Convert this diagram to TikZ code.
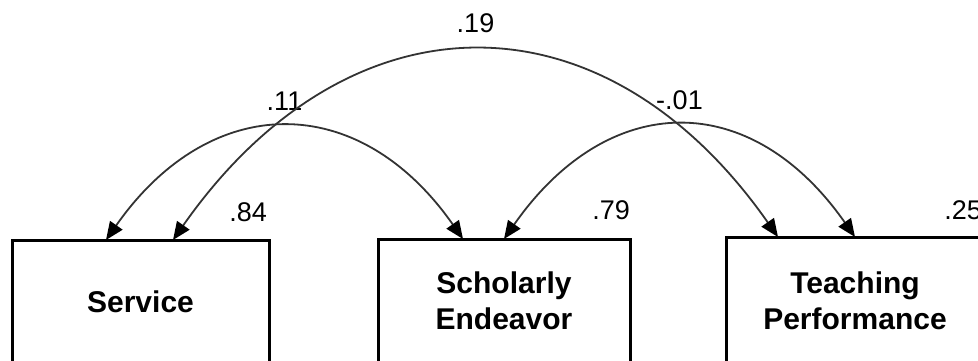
\documentclass[tikz,border=0pt]{standalone}
\usepackage{fontspec}
\setmainfont{Liberation Sans}
\usetikzlibrary{arrows.meta, positioning, calc}

\begin{document}
\begin{tikzpicture}[x=1pt, y=1pt, node distance=109pt]
        \tikzstyle{factor} = [rectangle, minimum width=257pt, minimum height=124pt, outer sep=0pt, text centered, align=center, draw=black, line width=3pt, font=\fontsize{30}{36}\selectfont\bfseries]
        \tikzstyle{corr} = [line width=1.8pt, draw=black!80, <->, >={Triangle[length=18pt, width=15pt, color=black]}]
        \tikzstyle{coef} = [inner sep=0pt, font=\fontsize{27}{32}\selectfont]

        \useasboundingbox (0,0) rectangle (978,-360);
        \clip (0,0) rectangle (978,-360);

        \node (service) [factor] at (140.5,-302) {Service};
        \node (scholar) [factor, minimum width=252pt, right=of service, yshift=1pt] {Scholarly\\Endeavor};
        \node (teach) [factor, minimum width=258pt, minimum height=128pt, right=96pt of scholar] {Teaching\\Performance};

        \node (varsvc) [coef, above left=18pt and 2pt of service.north east] {.84};
        \node (varsch) [coef, above left=19pt and 0pt of scholar.north east] {.79};
        \node (vartch) [coef, above left=17pt and 2pt of teach.north east] {.25};

        \coordinate (svcleft) at ($(service.north)+(-34.5,0)$);
        \coordinate (svcright) at ($(service.north)+(32.5,0)$);
        \coordinate (schleft) at ($(scholar.north)+(-41,0)$);
        \coordinate (schmid) at (scholar.north);
        \coordinate (tchleft) at ($(teach.north)+(-77,0)$);
        \coordinate (tchmid) at (teach.north);

        \draw [corr] (svcleft) .. controls +(55:182) and +(125:182) .. node[coef, above=16pt] {.11} (schleft);
        \draw [corr] (svcright) .. controls +(55:305) and +(125:305) .. node[coef, above=17pt] {.19} (tchleft);
        \draw [corr] (schmid) .. controls +(55:182) and +(125:182) .. node[coef, above=16pt] {-.01} (tchmid);
    \end{tikzpicture}
\end{document}
